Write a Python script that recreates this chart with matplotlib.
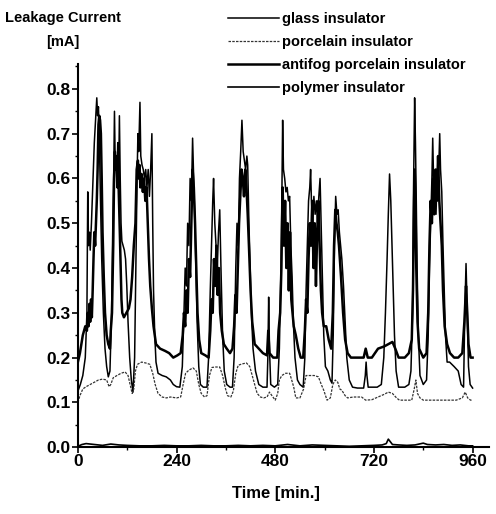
import matplotlib
matplotlib.use("Agg")
import matplotlib.pyplot as plt
from matplotlib.ticker import MultipleLocator, FormatStrFormatter

plt.rcParams['font.family'] = ['Liberation Sans', 'DejaVu Sans']
plt.rcParams['font.weight'] = 'bold'

# antifog porcelain insulator (thick upper line)
t_antifog = [0, 5, 12, 18, 22, 24, 26, 28, 30, 32, 34, 36, 38, 40, 42, 44, 46, 48, 50, 52, 54, 56, 58, 60, 63, 66, 70, 74, 78,
             80, 83, 86, 88, 90, 92, 94, 96, 98, 100, 102, 104, 106, 108, 112, 118, 124,
             128, 132, 136, 140, 143, 146, 148, 150, 152, 155, 158, 161, 164, 167, 170, 173, 176, 180, 184, 190, 200, 212, 222, 232, 242, 250,
             255, 258, 261, 264, 267, 270, 273, 276, 279, 282, 285, 288, 291, 295, 300, 310, 318,
             322, 325, 328, 331, 334, 337, 340, 343, 346, 350, 355, 362, 370, 376,
             380, 383, 386, 389, 392, 395, 398, 401, 404, 407, 410, 413, 416, 420, 424, 430, 440, 450, 460,
             463, 466, 475, 485,
             488, 492, 495, 498, 501, 504, 507, 510, 513, 516, 519, 522, 525, 530, 536, 542, 548,
             552, 555, 558, 561, 564, 567, 570, 573, 576, 579, 582, 585, 588, 591, 594, 598, 604, 610, 616,
             620, 623, 626, 629, 632, 635, 640, 645, 650, 656, 664, 680, 695,
             700, 705, 715, 730, 745, 755, 765, 772, 780, 795, 805, 812,
             815, 817, 819, 821, 823, 826, 830, 840, 848,
             852, 855, 858, 861, 864, 867, 870, 873, 876, 879, 882, 885, 888, 892, 898, 905, 915, 925, 935,
             940, 944, 947, 950, 955, 960]
antifog = [0.19, 0.21, 0.25, 0.27, 0.26, 0.30, 0.27, 0.32, 0.28, 0.33, 0.29, 0.35, 0.42, 0.48, 0.45, 0.50, 0.55, 0.62, 0.72, 0.74, 0.73, 0.70, 0.60, 0.48, 0.38, 0.30, 0.25, 0.23, 0.22,
           0.26, 0.30, 0.45, 0.60, 0.66, 0.62, 0.65, 0.58, 0.62, 0.55, 0.48, 0.40, 0.33, 0.30, 0.29, 0.30, 0.31,
           0.33, 0.38, 0.45, 0.50, 0.62, 0.64, 0.60, 0.63, 0.58, 0.61, 0.57, 0.60, 0.55, 0.58, 0.50, 0.42, 0.36, 0.31, 0.27, 0.23, 0.22, 0.215, 0.21, 0.20, 0.205, 0.21,
           0.25, 0.30, 0.27, 0.35, 0.30, 0.42, 0.38, 0.50, 0.62, 0.58, 0.50, 0.40, 0.30, 0.24, 0.21, 0.205, 0.20,
           0.26, 0.33, 0.30, 0.42, 0.36, 0.45, 0.34, 0.40, 0.30, 0.26, 0.23, 0.22, 0.21, 0.22,
           0.27, 0.34, 0.30, 0.40, 0.50, 0.56, 0.62, 0.60, 0.56, 0.62, 0.58, 0.52, 0.45, 0.35, 0.28, 0.23, 0.22, 0.21, 0.205,
           0.26, 0.21, 0.20, 0.20,
           0.26, 0.30, 0.40, 0.58, 0.45, 0.55, 0.40, 0.50, 0.35, 0.48, 0.33, 0.30, 0.27, 0.25, 0.22, 0.20, 0.20,
           0.26, 0.33, 0.30, 0.42, 0.50, 0.45, 0.55, 0.40, 0.50, 0.36, 0.48, 0.55, 0.45, 0.35, 0.30, 0.27, 0.27, 0.24, 0.22,
           0.30, 0.45, 0.53, 0.50, 0.48, 0.45, 0.38, 0.30, 0.24, 0.21, 0.20, 0.20, 0.20,
           0.22, 0.20, 0.20, 0.22, 0.225, 0.23, 0.235, 0.22, 0.20, 0.20, 0.21, 0.24,
           0.35, 0.50, 0.62, 0.55, 0.40, 0.28, 0.22, 0.20, 0.21,
           0.30, 0.45, 0.55, 0.50, 0.60, 0.52, 0.62, 0.55, 0.65, 0.55, 0.50, 0.45, 0.35, 0.27, 0.23, 0.21, 0.20, 0.20, 0.21,
           0.28, 0.36, 0.30, 0.23, 0.20, 0.20]

# glass insulator (thin middle line, tall spikes)
t_glass = [0, 6, 12, 18, 22, 24, 26, 28, 30, 33, 36, 40, 43, 46, 48, 50, 52, 55, 58, 62, 66, 70, 74,
           78, 82, 85, 87, 89, 91, 93, 95, 97, 99, 101, 103, 105, 107, 110, 113, 116, 119, 122, 126, 130, 134,
           138, 141, 144, 146, 148, 151, 153, 156, 159, 162, 165, 168, 171, 174, 177, 180, 182, 184, 187, 190, 195, 205, 215, 225, 232, 240, 248,
           254, 258, 261, 264, 267, 270, 273, 276, 279, 281, 284, 287, 290, 294, 298, 305, 314,
           318, 322, 325, 328, 330, 333, 336, 339, 342, 345, 348, 352, 356, 362, 370, 376,
           380, 384, 387, 390, 393, 396, 399, 402, 405, 408, 411, 413, 416, 419, 422, 426, 432, 440, 450, 460,
           462, 464, 466, 469, 478, 486,
           490, 494, 496, 498, 500, 503, 506, 509, 512, 515, 518, 521, 524, 528, 534, 540, 548,
           552, 555, 558, 561, 564, 566, 568, 571, 574, 577, 580, 583, 586, 589, 592, 595, 598, 602, 608, 614, 618,
           621, 624, 627, 630, 633, 636, 639, 642, 646, 650, 654, 660, 668, 680, 695,
           699, 701, 703, 706, 715, 728, 738,
           744, 748, 752, 755, 758, 761, 764, 767, 770, 774, 780, 795, 805, 810,
           814, 816, 818, 819, 821, 823, 825, 828, 832, 840, 848,
           852, 855, 858, 861, 863, 865, 868, 871, 874, 877, 880, 882, 885, 888, 891, 894, 898, 904, 915, 925, 932, 938,
           941, 944, 947, 950, 954, 960]
glass = [0.125, 0.14, 0.16, 0.20, 0.30, 0.57, 0.45, 0.48, 0.44, 0.50, 0.58, 0.68, 0.73, 0.78, 0.74, 0.76, 0.70, 0.55, 0.42, 0.30, 0.22, 0.18, 0.157,
         0.17, 0.30, 0.50, 0.60, 0.75, 0.62, 0.65, 0.60, 0.68, 0.58, 0.74, 0.60, 0.50, 0.46, 0.45, 0.44, 0.42, 0.36, 0.28, 0.20, 0.15, 0.123,
         0.20, 0.40, 0.60, 0.70, 0.66, 0.77, 0.65, 0.63, 0.62, 0.60, 0.62, 0.58, 0.62, 0.56, 0.62, 0.70, 0.50, 0.35, 0.25, 0.19, 0.165, 0.16, 0.157, 0.15, 0.14, 0.135, 0.134,
         0.18, 0.30, 0.40, 0.36, 0.50, 0.45, 0.60, 0.55, 0.69, 0.62, 0.52, 0.40, 0.28, 0.18, 0.14, 0.134, 0.134,
         0.20, 0.35, 0.45, 0.55, 0.60, 0.50, 0.45, 0.40, 0.48, 0.53, 0.40, 0.25, 0.17, 0.14, 0.134, 0.134,
         0.20, 0.40, 0.50, 0.45, 0.60, 0.66, 0.73, 0.66, 0.64, 0.62, 0.65, 0.63, 0.50, 0.40, 0.30, 0.22, 0.17, 0.14, 0.134, 0.134,
         0.20, 0.335, 0.22, 0.14, 0.134, 0.14,
         0.22, 0.40, 0.55, 0.73, 0.62, 0.60, 0.57, 0.58, 0.55, 0.56, 0.45, 0.38, 0.28, 0.20, 0.15, 0.14, 0.134,
         0.20, 0.35, 0.45, 0.55, 0.58, 0.62, 0.55, 0.50, 0.56, 0.52, 0.55, 0.50, 0.56, 0.60, 0.48, 0.35, 0.25, 0.18, 0.17, 0.15, 0.143,
         0.25, 0.45, 0.56, 0.52, 0.53, 0.48, 0.45, 0.42, 0.36, 0.28, 0.20, 0.15, 0.134, 0.132, 0.132,
         0.16, 0.19, 0.16, 0.134, 0.134, 0.134, 0.14,
         0.20, 0.30, 0.42, 0.52, 0.61, 0.55, 0.45, 0.35, 0.25, 0.17, 0.134, 0.134, 0.14, 0.17,
         0.30, 0.55, 0.70, 0.78, 0.68, 0.55, 0.40, 0.25, 0.16, 0.14, 0.15,
         0.25, 0.40, 0.50, 0.60, 0.69, 0.60, 0.58, 0.52, 0.62, 0.60, 0.70, 0.62, 0.57, 0.45, 0.35, 0.25, 0.19, 0.19, 0.18, 0.17, 0.14, 0.134,
         0.30, 0.41, 0.30, 0.18, 0.14, 0.132]

# porcelain insulator (dotted lower line)
t_porcelain = [0, 5, 12, 20, 30, 40, 50, 60, 70, 76, 80, 86, 95, 105, 115, 122, 127, 132, 136, 140, 145, 155, 165, 175, 182, 188, 195,
               205, 215, 225, 240, 250, 256, 262, 270, 280, 288, 294, 300, 308, 314, 320, 326, 335, 345, 352, 358, 364, 372, 378,
               384, 390, 400, 410, 418, 424, 430, 436, 444, 452, 460, 466, 472, 480, 486, 490, 496, 505, 515, 520, 525, 530, 540,
               549, 555, 565, 575, 585, 592, 598, 606, 614, 620, 626, 632, 637, 642, 650, 656, 670, 690, 700, 715, 730, 745,
               755, 765, 775, 782, 800, 812, 818, 822, 826, 832, 840, 860, 880, 900, 920, 935, 942, 948, 955, 960]
porcelain = [0.10, 0.115, 0.13, 0.135, 0.14, 0.145, 0.15, 0.152, 0.15, 0.135, 0.14, 0.155, 0.16, 0.165, 0.168, 0.16, 0.14, 0.12, 0.13, 0.17, 0.185, 0.19, 0.188, 0.185, 0.165, 0.14, 0.12,
             0.112, 0.11, 0.112, 0.11, 0.112, 0.14, 0.165, 0.172, 0.177, 0.17, 0.14, 0.12, 0.112, 0.115, 0.16, 0.178, 0.179, 0.179, 0.16, 0.134, 0.115, 0.112, 0.125,
             0.165, 0.183, 0.186, 0.188, 0.18, 0.16, 0.14, 0.12, 0.112, 0.11, 0.112, 0.123, 0.115, 0.105, 0.12, 0.15, 0.16, 0.165, 0.165, 0.15, 0.134, 0.11, 0.11,
             0.13, 0.16, 0.16, 0.16, 0.157, 0.14, 0.127, 0.105, 0.11, 0.14, 0.15, 0.145, 0.13, 0.127, 0.115, 0.11, 0.112, 0.112, 0.105, 0.106, 0.112, 0.118,
             0.123, 0.12, 0.11, 0.105, 0.105, 0.105, 0.13, 0.15, 0.12, 0.11, 0.105, 0.105, 0.105, 0.105, 0.105, 0.11, 0.123, 0.11, 0.105, 0.105]

# polymer insulator (near zero)
t_polymer = [0, 10, 20, 40, 60, 80, 100, 120, 150, 180, 210, 240, 270, 300, 330, 360, 390, 420, 450, 480, 510, 540, 570,
             600, 630, 660, 690, 720, 740, 750, 755, 760, 765, 780, 800, 820, 840, 850, 870, 890, 910, 930, 950, 960]
polymer = [0.002, 0.006, 0.008, 0.006, 0.004, 0.007, 0.005, 0.004, 0.003, 0.003, 0.004, 0.003, 0.003, 0.004, 0.003, 0.003, 0.004, 0.003, 0.004, 0.003, 0.006, 0.003, 0.005,
           0.004, 0.003, 0.002, 0.003, 0.004, 0.005, 0.008, 0.018, 0.012, 0.006, 0.005, 0.004, 0.005, 0.009, 0.006, 0.005, 0.006, 0.004, 0.005, 0.003, 0.003]

x_ticks = [0, 240, 480, 720, 960]

fig = plt.figure(figsize=(4.96, 5.14), dpi=100)
ax = fig.add_axes([0.157, 0.130, 0.829, 0.745])

ax.plot(t_glass, glass, color='black', lw=1.1, label='glass insulator')
ax.plot(t_porcelain, porcelain, color='#333333', lw=0.9, ls=(0, (2, 1)), label='porcelain insulator')
ax.plot(t_antifog, antifog, color='black', lw=1.8, label='antifog porcelain insulator')
ax.plot(t_polymer, polymer, color='black', lw=1.2, label='polymer insulator')

ax.set_xlim(0, 1000)
ax.set_ylim(0, 0.855)
ax.set_xticks(x_ticks)
ax.xaxis.set_minor_locator(MultipleLocator(120))
ax.yaxis.set_major_locator(MultipleLocator(0.1))
ax.yaxis.set_minor_locator(MultipleLocator(0.05))
ax.yaxis.set_major_formatter(FormatStrFormatter('%.1f'))

for s in ['top', 'right']:
    ax.spines[s].set_visible(False)
for s in ['left', 'bottom']:
    ax.spines[s].set_linewidth(1.5)

ax.tick_params(which='major', direction='out', length=4, width=1.2, labelsize=12.5, pad=1)
ax.tick_params(which='minor', direction='out', length=2.5, width=1.0)

fig.text(0.127, 0.965, 'Leakage Current', fontsize=10.5, ha='center', va='center')
fig.text(0.127, 0.918, '[mA]', fontsize=10.5, ha='center', va='center')
fig.text(0.556, 0.040, 'Time [min.]', fontsize=12, ha='center', va='center')

ax.legend(loc='upper left', bbox_to_anchor=(228 / 496, 1 - 12 / 514), bbox_transform=fig.transFigure,
          frameon=False, fontsize=10.5, handlelength=3.5, handletextpad=0.2, labelspacing=0.62,
          borderpad=0, borderaxespad=0)

fig.savefig('out.png', dpi=100)
